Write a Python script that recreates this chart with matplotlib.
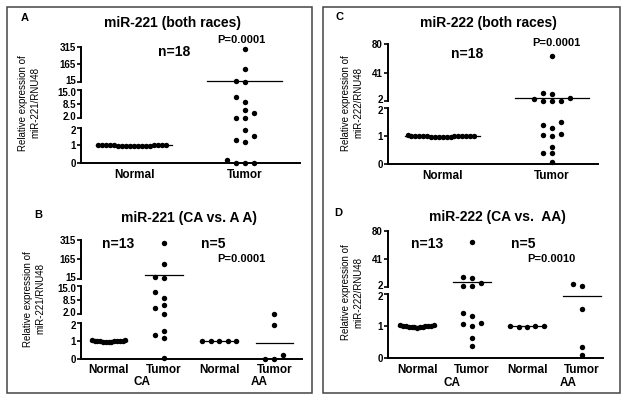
import matplotlib
matplotlib.use("Agg")
import matplotlib.pyplot as plt
from matplotlib.patches import Rectangle

W, H = 626, 400
plt.rcParams.update({"font.family": ["Liberation Sans", "DejaVu Sans"], "font.weight": "bold"})

# ---- values ----
GROUPS_2 = ["Normal", "Tumor"]
GROUPS_4 = ["Normal", "Tumor", "Normal", "Tumor"]

A_NORMAL = [1.02, 0.98, 1.00, 0.97, 1.03, 0.99, 0.95, 1.01, 1.04, 0.96, 1.00, 0.98, 1.02, 0.97, 1.01, 0.99, 1.00, 0.98]
A_TUMOR = [295, 126, 23, 15, 11.7, 9.3, 5.9, 4.4, 2.0, 2.0, 1.89, 1.51, 1.30, 1.17, 0.17, 0.0, 0.0, 0.0]
A_MEDIANS = [1.0, 21]

B_CA_NORMAL = [1.0, 0.97, 1.02, 0.95, 1.03, 0.98, 1.0, 0.96, 1.04, 0.99, 1.01, 0.97, 1.0]
B_CA_TUMOR = [289, 131, 28, 18, 12.2, 9.5, 6.1, 4.7, 2.3, 1.55, 1.32, 1.19, 0.06]
B_AA_NORMAL = [1.0, 0.99, 1.01, 0.98, 1.0]
B_AA_TUMOR = [2.3, 1.89, 0.23, 0.0, 0.0]
B_MEDIANS = [1.0, 41, 1.0, 0.9]

C_NORMAL = [1.01, 0.99, 1.00, 0.97, 1.02, 0.98, 0.96, 1.01, 1.03, 0.97, 1.00, 0.99, 1.02, 0.98, 1.01, 0.99, 1.00, 0.98]
C_TUMOR = [64.3, 13.0, 11.6, 5.7, 4.3, 2.0, 2.0, 2.0, 1.50, 1.39, 1.30, 1.09, 1.05, 1.01, 0.61, 0.38, 0.38, 0.08]
C_MEDIANS = [1.0, 6.5]

D_CA_NORMAL = [1.0, 0.98, 1.02, 0.97, 1.03, 0.99, 1.0, 0.96, 1.04, 0.99, 1.01, 0.98, 1.0]
D_CA_TUMOR = [64.7, 15, 14.5, 6.7, 3.0, 3.0, 1.43, 1.33, 1.11, 1.06, 1.02, 0.63, 0.38]
D_AA_NORMAL = [1.0, 0.99, 1.01, 0.98, 1.0]
D_AA_TUMOR = [5.8, 3.0, 1.53, 0.36, 0.10]
D_MEDIANS = [1.0, 9.0, 1.0, 1.94]

# broken y axes: (low, high, ticks, label format)
SEG_221 = [(0, 2, [0, 1, 2], "%g"), (2, 15, [2, 8.5, 15], "%.1f"), (15, 315, [15, 165, 315], "%g")]
SEG_222 = [(0, 2, [0, 1, 2], "%g"), (2, 80, [2, 41, 80], "%g")]

fig = plt.figure(figsize=(W / 100, H / 100), dpi=100)
fig.patch.set_facecolor("white")


def ftext(x, y, s, **kw):
    kw.setdefault("ha", "center")
    kw.setdefault("va", "center")
    fig.text(x / W, 1 - y / H, s, **kw)


def swarm(ys, gap=6.2):
    placed, cols = [], []
    cand = [0]
    for j in range(1, 40):
        cand += [-j, j]
    for y in ys:
        for c in cand:
            if all(abs(y - py) >= gap for py, pc in placed if pc == c):
                break
        placed.append((y, c))
        cols.append(c)
    return cols


def panel(x0, x1, seg_px, segs, xlim, names, groups, medians, half=0.34):
    axes = []
    n = len(segs)
    for i, ((lo, hi, ticks, fmt), (ytop, ybot)) in enumerate(zip(segs, seg_px)):
        ax = fig.add_axes([x0 / W, 1 - ybot / H, (x1 - x0) / W, (ybot - ytop) / H])
        ax.set_xlim(xlim)
        ax.set_ylim(lo, hi)
        ax.patch.set_alpha(0)
        for s in ["top", "right", "bottom"]:
            ax.spines[s].set_visible(False)
        ax.spines["left"].set_linewidth(1.4)
        ax.set_yticks(ticks)
        labs = [fmt % t for t in ticks]
        # labels at the axis breaks are nudged apart a little
        nudge = {}
        if i > 0:
            nudge[0] = 1.5
        if i < n - 1:
            nudge[len(ticks) - 1] = -1.5
        for j, dy in nudge.items():
            ax.annotate(labs[j], xy=(0, ticks[j]), xycoords=("axes fraction", "data"),
                        xytext=(-3.6, dy), textcoords="offset points",
                        ha="right", va="center_baseline", fontsize=7)
            labs[j] = ""
        ax.set_yticklabels(labs)
        ax.tick_params(axis="y", length=2.6, width=1.2, pad=1, labelsize=7)
        ax.set_xticks([])
        axes.append(ax)
    bot = axes[0]
    bot.spines["bottom"].set_visible(True)
    bot.spines["bottom"].set_linewidth(1.4)
    bot.set_xticks(range(1, len(names) + 1))
    bot.set_xticklabels(names)
    bot.tick_params(axis="x", length=0, pad=4, labelsize=8.5)

    def seg_of(v):
        k = 0
        for i, (lo, hi, _, _) in enumerate(segs):
            if v >= lo:
                k = i
        return k

    ppu = (x1 - x0) / (xlim[1] - xlim[0])
    for gi, vals in enumerate(groups):
        x = gi + 1
        vals = sorted(vals)
        ks = [seg_of(v) for v in vals]
        ys = [axes[k].transData.transform((x, v))[1] for k, v in zip(ks, vals)]
        cols = swarm(ys)
        m = max(abs(c) for c in cols)
        step = 9.0 if m == 0 else min(9.0, (half * ppu - 2) / m)
        for k, v, c in zip(ks, vals, cols):
            axes[k].plot(x + c * step / ppu, v, "o", color="black", ms=3.9, mec="none", clip_on=False)
        mk = seg_of(medians[gi])
        axes[mk].plot([x - half, x + half], [medians[gi]] * 2, color="black", lw=0.9, clip_on=False)
    return axes


# panel A
panel(81, 300, [(127.7, 163), (89.7, 118.3), (46.7, 81.7)], SEG_221, (0.52, 2.5),
      GROUPS_2, [A_NORMAL, A_TUMOR], A_MEDIANS)
ftext(25, 18, "A", fontsize=8)
ftext(172, 23, "miR-221 (both races)", fontsize=10)
ftext(174, 52, "n=18", fontsize=10)
ftext(241, 40, "P=0.0001", fontsize=8)
ftext(29, 103, "Relative expression of\nmiR-221/RNU48", fontsize=7, fontweight="normal",
      rotation=90, linespacing=1.35)

# panel B
panel(81, 302, [(323.3, 358.7), (286, 314.3), (240, 278.7)], SEG_221, (0.5, 4.5),
      GROUPS_4, [B_CA_NORMAL, B_CA_TUMOR, B_AA_NORMAL, B_AA_TUMOR], B_MEDIANS)
ftext(38, 215, "B", fontsize=8)
ftext(189, 218, "miR-221 (CA vs. A A)", fontsize=10)
ftext(118, 244, "n=13", fontsize=10)
ftext(213, 244, "n=5", fontsize=10)
ftext(241, 259, "P=0.0001", fontsize=8)
ftext(142, 382, "CA", fontsize=8.5)
ftext(259, 382, "AA", fontsize=8.5)
ftext(34.5, 299, "Relative expression of\nmiR-221/RNU48", fontsize=7, fontweight="normal",
      rotation=90, linespacing=1.35)

# panel C
panel(388, 598, [(108.3, 164), (44.3, 101)], SEG_222, (0.5, 2.42),
      GROUPS_2, [C_NORMAL, C_TUMOR], C_MEDIANS)
ftext(340, 17, "C", fontsize=8)
ftext(488, 23, "miR-222 (both races)", fontsize=10)
ftext(467, 54, "n=18", fontsize=10)
ftext(556, 42.5, "P=0.0001", fontsize=8)
ftext(352, 103, "Relative expression of\nmiR-222/RNU48", fontsize=7, fontweight="normal",
      rotation=90, linespacing=1.35)

# panel D
panel(388, 603, [(294.3, 358.3), (230.7, 286.7)], SEG_222, (0.47, 4.38),
      GROUPS_4, [D_CA_NORMAL, D_CA_TUMOR, D_AA_NORMAL, D_AA_TUMOR], D_MEDIANS)
ftext(338, 213, "D", fontsize=8)
ftext(497, 217, "miR-222 (CA vs.  AA)", fontsize=10)
ftext(427, 244, "n=13", fontsize=10)
ftext(523, 244, "n=5", fontsize=10)
ftext(551, 259, "P=0.0010", fontsize=8)
ftext(452, 383, "CA", fontsize=8.5)
ftext(568, 383, "AA", fontsize=8.5)
ftext(352.5, 292, "Relative expression of\nmiR-222/RNU48", fontsize=7, fontweight="normal",
      rotation=90, linespacing=1.35)

# frames around the two columns
for bx0, bx1 in [(7, 312), (323, 620)]:
    fig.add_artist(Rectangle((bx0 / W, 1 - 393 / H), (bx1 - bx0) / W, (393 - 7) / H,
                             transform=fig.transFigure, fill=False, lw=1.1, ec="#444444"))

fig.savefig("out.png", dpi=100, facecolor="white")
